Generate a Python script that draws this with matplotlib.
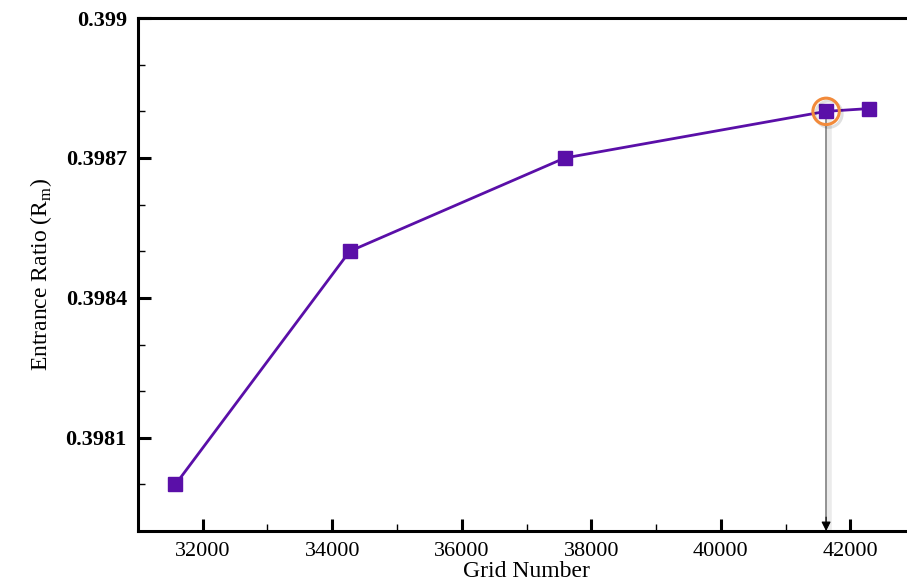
import matplotlib.pyplot as plt
import matplotlib.patheffects as pe
from matplotlib.ticker import MultipleLocator

# Grid independence data
grid_number = [31580, 34270, 37590, 41625, 42290]
entrance_ratio = [0.39800, 0.39850, 0.39870, 0.39880, 0.398806]
selected_grid = 41625
selected_ratio = 0.39880

x_ticks = [32000, 34000, 36000, 38000, 40000, 42000]
y_ticks = [0.3981, 0.3984, 0.3987, 0.399]
y_tick_labels = ["0.3981", "0.3984", "0.3987", "0.399"]

plt.rcParams['font.family'] = ['Liberation Serif', 'DejaVu Serif']

fig = plt.figure(figsize=(9.07, 5.83), dpi=100)
ax = fig.add_axes([0.152, 0.089, 0.857, 0.880])

# Main curve
ax.plot(grid_number, entrance_ratio, color='#5a0fa8', linewidth=2,
        marker='s', markersize=10, markerfacecolor='#5a0fa8',
        markeredgecolor='#5a0fa8', zorder=3)

# Gray drop line from the chosen grid, small black arrowhead at the axis
ax.plot([selected_grid, selected_grid], [selected_ratio, 0.39791], color='#8a8a8a',
        linewidth=1.3, zorder=2,
        path_effects=[pe.SimpleLineShadow(offset=(2, -1), alpha=0.08, linewidth=4), pe.Normal()])
ax.annotate('', xy=(selected_grid, 0.3979), xytext=(selected_grid, 0.39793),
            arrowprops=dict(arrowstyle='-|>', color='black', lw=0.8,
                            mutation_scale=14, shrinkA=0, shrinkB=0),
            zorder=2)

# Highlight circle
ax.plot([selected_grid], [selected_ratio], marker='o', markersize=19,
        markerfacecolor='none', markeredgecolor='#f28a3a', markeredgewidth=2.2,
        zorder=4,
        path_effects=[pe.SimpleLineShadow(offset=(2, -2), alpha=0.12), pe.Normal()])

ax.set_xlim(31000, 43000)
ax.set_ylim(0.3979, 0.399)

ax.set_xticks(x_ticks)
ax.set_xticklabels([str(t) for t in x_ticks], fontsize=16)
ax.xaxis.set_minor_locator(MultipleLocator(1000))
ax.set_yticks(y_ticks)
ax.set_yticklabels(y_tick_labels, fontsize=16, fontweight='bold')
ax.yaxis.set_minor_locator(MultipleLocator(0.0001))

ax.tick_params(which='major', direction='in', length=9, width=2.2, pad=8)
ax.tick_params(which='minor', direction='in', length=5, width=1)
ax.tick_params(top=False, right=False, which='both')

for side in ['left', 'bottom', 'top']:
    ax.spines[side].set_linewidth(2.2)
ax.spines['right'].set_visible(False)

ax.set_xlabel("Grid Number", fontsize=17, labelpad=0)
ax.set_ylabel("Entrance Ratio (R$_\\mathregular{m}$)", fontsize=17, labelpad=8)

fig.savefig("out.png", dpi=100)
